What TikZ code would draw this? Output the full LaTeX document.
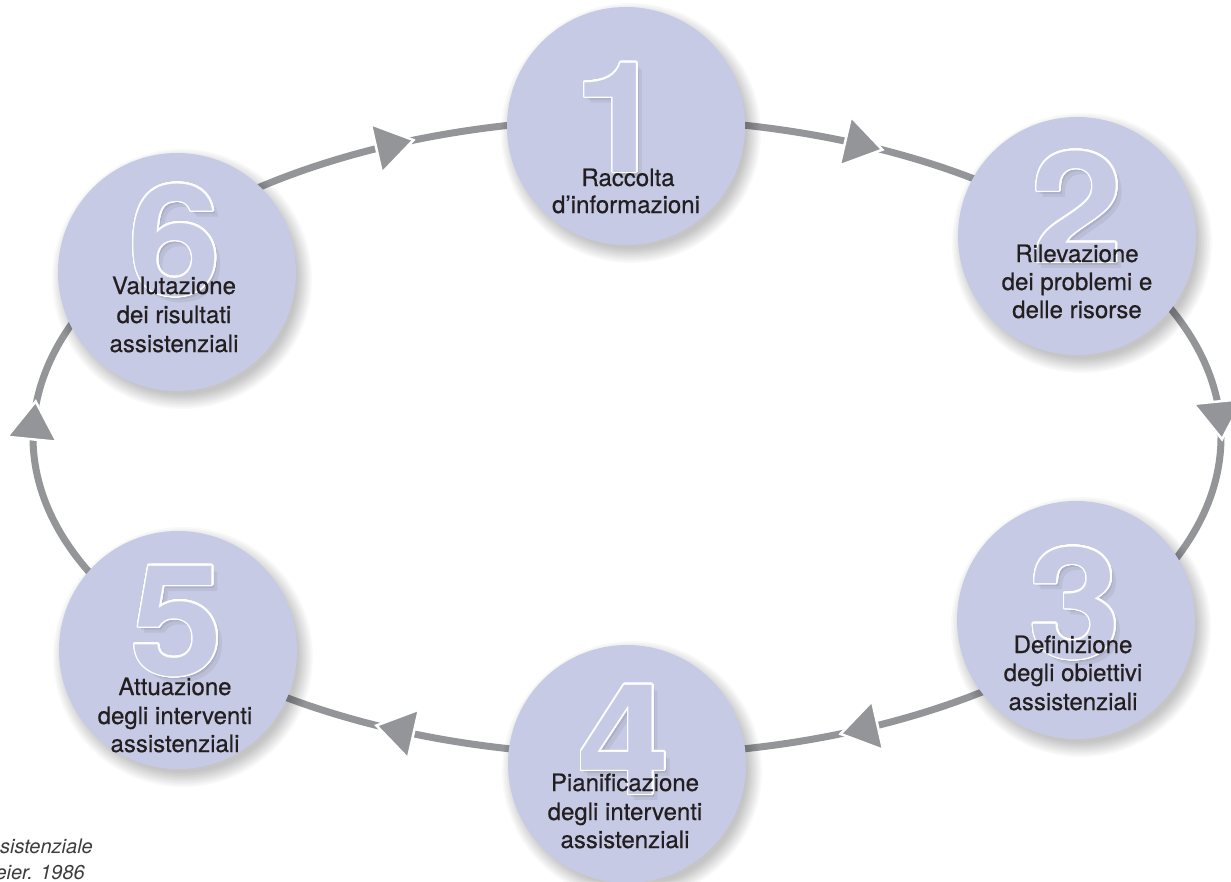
\documentclass[tikz,border=0pt]{standalone}
\usepackage{fontspec}
\setmainfont{TeX Gyre Heros}
\newfontfamily\medfont{TeX Gyre Heros}[FakeBold=0.5]
\usepackage{graphicx}
\usepackage[copies]{contour}
\contourlength{1.3pt}
\contournumber{32}
\definecolor{circ}{RGB}{199,202,229}
\definecolor{ringc}{RGB}{147,149,152}
\definecolor{txt}{RGB}{35,31,32}
\definecolor{capc}{RGB}{60,60,60}
\tikzset{
  stepcircle/.style={circle, minimum size=238pt, inner sep=0pt, fill=circ},
  lbl/.style={anchor=base, inner sep=0pt, text=txt, font=\medfont\fontsize{24}{28}\selectfont},
  digitnode/.style={anchor=base, inner sep=0pt, font=\bfseries\fontsize{154}{154}\selectfont},
  arrowtri/.style={fill=ringc, draw=white, line width=2.5pt, line join=miter},
  ringline/.style={draw=ringc, line width=7pt},
  caption/.style={anchor=base east, inner sep=0pt, text=capc, font=\fontsize{20}{24}\selectfont\itshape}
}
\newcommand\ringarrow[1]{%
  \pgfmathsetmacro\rcx{627+594*cos(#1)}%
  \pgfmathsetmacro\rcy{437+318*sin(#1)}%
  \pgfmathsetmacro\rtx{-594*sin(#1)}%
  \pgfmathsetmacro\rty{318*cos(#1)}%
  \pgfmathsetmacro\rtl{veclen(\rtx,\rty)}%
  \pgfmathsetmacro\rux{\rtx/\rtl}%
  \pgfmathsetmacro\ruy{\rty/\rtl}%
  \filldraw[arrowtri] (\rcx+19*\rux, \rcy+19*\ruy) -- (\rcx-19*\rux-25*\ruy, \rcy-19*\ruy+25*\rux) -- (\rcx-19*\rux+25*\ruy, \rcy-19*\ruy-25*\rux) -- cycle;}
\newcommand\stepshadow[2]{%
  \foreach \k in {0,...,9}{\fill[black, opacity=0.022] (#1+5,#2+7) circle ({130-\k*1.6});}}
\newcommand\bignum[4]{%
  \node[digitnode, text=black, text opacity=0.07] at (#2+3,#3+3) {\scalebox{1.08}[1]{#4}};
  \node[digitnode, text=black, text opacity=0.06] at (#2+6,#3+6) {\scalebox{1.08}[1]{#4}};
  \node[digitnode] (#1) at (#2,#3) {\scalebox{1.08}[1]{\textcolor{circ}{\contour{white}{#4}}}};}
\begin{document}
\begin{tikzpicture}[x=1pt,y=-1pt]
\useasboundingbox (0,0) rectangle (1231,881);
\clip (0,0) rectangle (1231,881);
\fill[white] (0,0) rectangle (1231,881);
% ring
\draw[ringline] (627,437) ellipse [x radius=594, y radius=318];
\ringarrow{247}
\ringarrow{293.5}
\ringarrow{357}
\ringarrow{67}
\ringarrow{113}
\ringarrow{183}
% shadows
\stepshadow{626}{126}
\stepshadow{1077}{236}
\stepshadow{1076}{620}
\stepshadow{627}{764}
\stepshadow{178}{650}
\stepshadow{177}{272}
% circles
\node[stepcircle] (s1) at (626,126) {};
\node[stepcircle] (s2) at (1077,236) {};
\node[stepcircle] (s3) at (1076,620) {};
\node[stepcircle] (s4) at (627,764) {};
\node[stepcircle] (s5) at (178,650) {};
\node[stepcircle] (s6) at (177,272) {};
% digits
\bignum{n1}{620}{172}{1}
\bignum{n2}{1077}{262}{2}
\bignum{n3}{1075}{658}{3}
\bignum{n4}{624}{794}{4}
\bignum{n5}{177}{675}{5}
\bignum{n6}{175}{295}{6}
% labels
\node[lbl] (l1a) at (628,186) {Raccolta};
\node[lbl] (l1b) at (626,213) {d’informazioni};
\node[lbl] (l2a) at (1077,262) {Rilevazione};
\node[lbl] (l2b) at (1077,290) {dei problemi e};
\node[lbl] (l2c) at (1077,318) {delle risorse};
\node[lbl] (l3a) at (1073,653) {Definizione};
\node[lbl] (l3b) at (1073,681) {degli obiettivi};
\node[lbl] (l3c) at (1073,710) {assistenziali};
\node[lbl] (l4a) at (625,791) {Pianificazione};
\node[lbl] (l4b) at (625,820) {degli interventi};
\node[lbl] (l4c) at (625,848) {assistenziali};
\node[lbl] (l5a) at (175,695) {Attuazione};
\node[lbl] (l5b) at (175,724) {degli interventi};
\node[lbl] (l5c) at (175,752) {assistenziali};
\node[lbl] (l6a) at (174,294) {Valutazione};
\node[lbl] (l6b) at (174,323) {dei risultati};
\node[lbl] (l6c) at (174,352) {assistenziali};
% caption (cut at the left edge)
\node[caption] (c1) at (93,853) {assistenziale};
\node[caption] (c2) at (85,879) {Meier. 1986};
\end{tikzpicture}
\end{document}
